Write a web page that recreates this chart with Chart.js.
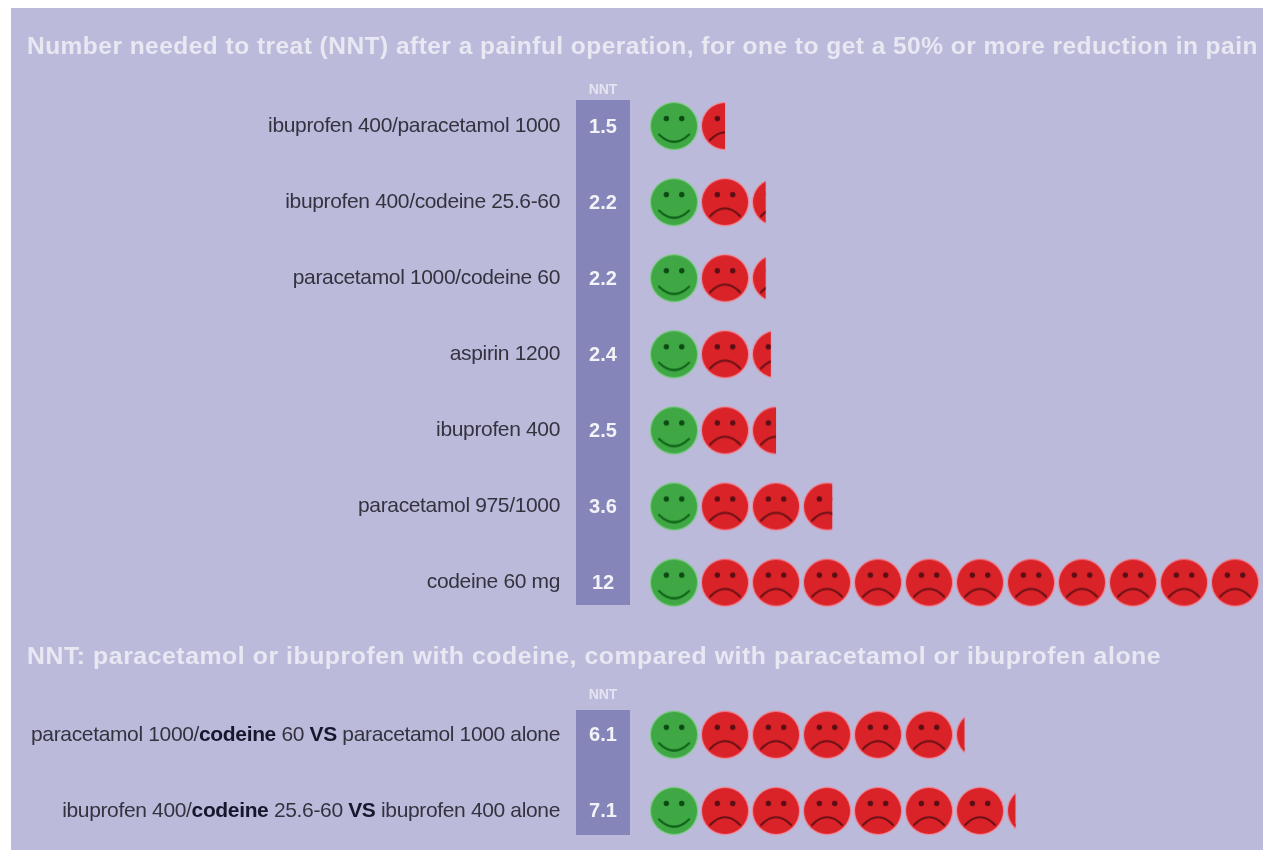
<!DOCTYPE html>
<html>
<head>
<meta charset="utf-8">
<title>NNT chart</title>
<script src="https://cdn.jsdelivr.net/npm/chart.js@4"></script>
<style>
  html, body { margin: 0; padding: 0; background: #fff; overflow: hidden; }
  #panel { position: absolute; left: 11px; top: 8px; width: 1252px; height: 842px; background: #bbbadb; }
  #wrap { position: absolute; left: 0; top: 0; width: 1263px; height: 850px; filter: blur(0.6px); }
</style>
</head>
<body>
<div id="panel"></div>
<div id="wrap"><canvas id="my-chart" width="1263" height="850"></canvas></div>
<script>
// dati (la riga vuota e' quella del secondo titolo)
const categories = [
    'ibuprofen 400/paracetamol 1000',
    'ibuprofen 400/codeine 25.6-60',
    'paracetamol 1000/codeine 60',
    'aspirin 1200',
    'ibuprofen 400',
    'paracetamol 975/1000',
    'codeine 60 mg',
    '',
    'paracetamol 1000/*codeine* 60 *VS* paracetamol 1000 alone',
    'ibuprofen 400/*codeine* 25.6-60 *VS* ibuprofen 400 alone'
];
const nntValues = [1.5, 2.2, 2.2, 2.4, 2.5, 3.6, 12, null, 6.1, 7.1];
const nntLabels = ['1.5', '2.2', '2.2', '2.4', '2.5', '3.6', '12', '', '6.1', '7.1'];
const columnHeader = 'NNT';
const mainTitle = 'Number needed to treat (NNT) after a painful operation, for one to get a 50% or more reduction in pain';
const subTitle = 'NNT: paracetamol or ibuprofen with codeine, compared with paracetamol or ibuprofen alone';

const FONT = '"Liberation Sans", Arial, sans-serif';

/* disegno le faccine su canvas, poi le uso come pointStyle */
const makeFace = function (happy, fraction) {
    const c = document.createElement('canvas');
    c.width = 52;
    c.height = 52;
    const g = c.getContext('2d');
    // le frazioni piccole nell'originale sono tagliate un po' piu' larghe
    const visible = fraction < 0.3 ? fraction + 0.1 : fraction;
    g.beginPath();
    g.rect(0, 0, 52 * visible, 52);
    g.clip();
    // alone chiaro
    g.fillStyle = happy ? '#7fcb84' : '#f08a98';
    g.beginPath();
    g.arc(26, 26, 24.2, 0, Math.PI * 2);
    g.fill();
    g.fillStyle = happy ? '#3fa845' : '#da2229';
    g.beginPath();
    g.arc(26, 26, 23, 0, Math.PI * 2);
    g.fill();
    g.fillStyle = happy ? '#0c4a14' : '#5a0f14';
    g.beginPath();
    g.arc(18.3, 18.5, 2.7, 0, Math.PI * 2);
    g.arc(33.7, 18.5, 2.7, 0, Math.PI * 2);
    g.fill();
    g.strokeStyle = happy ? '#0f6418' : '#6a1216';
    g.lineWidth = 2.2;
    g.lineCap = 'round';
    g.beginPath();
    if (happy) {
        g.moveTo(11, 34.5);
        g.quadraticCurveTo(26, 49, 41, 34.5);
    } else {
        g.moveTo(11, 40);
        g.quadraticCurveTo(26, 24.5, 41, 40);
    }
    g.stroke();
    return c;
}

/* una faccina verde per riga, le rosse fino al valore di NNT */
const smilePoints = [];
const frownPoints = [];
nntValues.forEach(function (nnt, row) {
    if (nnt === null) return;
    smilePoints.push({ x: 0.5, y: row });
    for (let i = 1; i < nnt; i++) {
        frownPoints.push({ x: i + 0.5, y: row, fraction: Math.min(1, nnt - i) });
    }
});

const smileFace = makeFace(true, 1);

/* testi: titoli, etichette di riga e valori di NNT */
const textPlugin = {
    id: 'nntText',
    afterDatasetsDraw(chart) {
        const ctx = chart.ctx;
        const xs = chart.scales.x;
        const ys = chart.scales.y;
        const colX = xs.getPixelForValue(columnX);

        ctx.save();
        ctx.textAlign = 'left';
        ctx.textBaseline = 'alphabetic';
        ctx.fillStyle = '#e8e8f3';
        ctx.letterSpacing = '0.47px';
        ctx.font = 'bold 24.5px ' + FONT;
        ctx.fillText(mainTitle, 27, 54);
        ctx.letterSpacing = '0.55px';
        ctx.font = 'bold 24.8px ' + FONT;
        ctx.fillText(subTitle, 27, 664);
        ctx.letterSpacing = '0px';

        ctx.textBaseline = 'middle';
        ctx.textAlign = 'center';
        ctx.font = 'bold 14px ' + FONT;
        ctx.fillStyle = '#e4e4f1';
        ctx.fillText(columnHeader, colX, 90);
        ctx.fillText(columnHeader, colX, 695);

        categories.forEach(function (label, row) {
            if (!label) return;
            const y = ys.getPixelForValue(row);
            ctx.textAlign = 'center';
            ctx.font = 'bold 20px ' + FONT;
            ctx.fillStyle = '#f2f2f8';
            ctx.fillText(nntLabels[row], colX, y + 1);

            // etichetta allineata a destra, i pezzi tra * sono in grassetto
            const parts = label.split('*');
            let width = 0;
            ctx.letterSpacing = '-0.35px';
            parts.forEach(function (p, i) {
                ctx.font = (i % 2 ? 'bold ' : '') + '21px ' + FONT;
                width += ctx.measureText(p).width;
            });
            let x = 560 - width;
            ctx.textAlign = 'left';
            parts.forEach(function (p, i) {
                ctx.font = (i % 2 ? 'bold ' : '') + '21px ' + FONT;
                ctx.fillStyle = i % 2 ? '#16162c' : '#33333f';
                ctx.fillText(p, x, y);
                x += ctx.measureText(p).width;
            });
            ctx.letterSpacing = '0px';
        });
        ctx.restore();
    }
}

const columnX = -0.892;
const columnPoints = [
    { x: columnX, y: -0.342 },
    { x: columnX, y: 6.294 },
    { x: columnX, y: null },
    { x: columnX, y: 7.674 },
    { x: columnX, y: 9.316 }
];

const ctx = document.getElementById('my-chart');

const data = {
    datasets: [
        {
            label: 'NNT column',
            data: columnPoints,
            showLine: true,
            spanGaps: false,
            borderColor: '#8585b9',
            borderWidth: 54,
            borderCapStyle: 'butt',
            pointRadius: 0
        },
        {
            label: 'benefit',
            data: smilePoints,
            pointStyle: smileFace
        },
        {
            label: 'no benefit',
            data: frownPoints,
            pointStyle: function (context) {
                return makeFace(false, context.raw.fraction);
            }
        }
    ]
}

const config = {
    type: 'scatter',
    data: data,
    options: {
        responsive: false,
        animation: false,
        layout: { padding: 0, autoPadding: false },
        scales: {
            x: { type: 'linear', display: false, min: -12.716, max: 12.049 },
            y: { type: 'linear', display: false, reverse: true, min: -1.656, max: 9.514 }
        },
        plugins: {
            legend: { display: false },
            tooltip: { enabled: false }
        }
    },
    plugins: [textPlugin]
}

const myChart = new Chart(ctx, config);
</script>
</body>
</html>
